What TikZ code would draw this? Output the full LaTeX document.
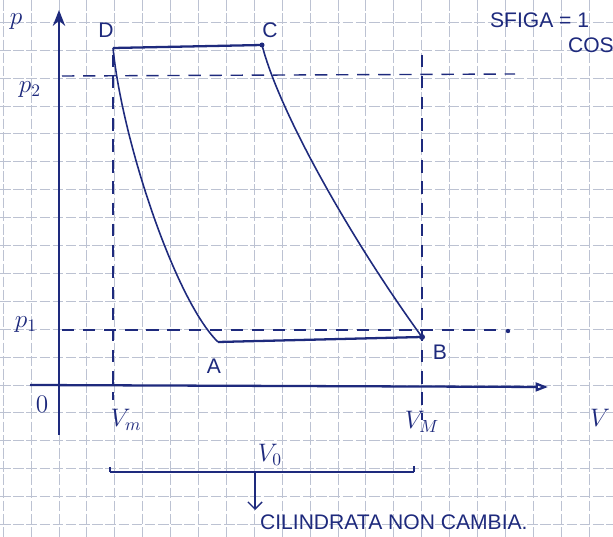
\documentclass[tikz,border=0pt]{standalone}
\usepackage{fontspec}
\setmainfont{Liberation Sans}
\usepackage{tikz}
\usetikzlibrary{arrows.meta}
\definecolor{inkblue}{RGB}{30,42,125}
\definecolor{gridgrey}{RGB}{188,194,210}

\tikzset{
  gridline/.style={gridgrey, line width=0.5pt, dash pattern=on 6pt off 1.5pt},
  axis/.style={inkblue, line width=1.3pt},
  cycleline/.style={inkblue, line width=1.3pt},
  cyclecurve/.style={inkblue, line width=0.9pt},
  guide/.style={inkblue, line width=0.8pt, dash pattern=on 7pt off 5pt},
  lbl/.style={text=inkblue, font=\large, inner sep=1pt},
}

\begin{document}
\begin{tikzpicture}[x=0.02cm, y=-0.02cm]
    \useasboundingbox (0,0) rectangle (613,537);
    \clip (0,0) rectangle (613,537);
    \fill[white] (0,0) rectangle (613,537);

    % squared paper
    \foreach \i in {0,...,21}
        \draw[gridline] (3.2+27.9*\i,0) -- ++(0,537);
    \foreach \j in {0,...,19}
        \draw[gridline] (0,-5.6+27.9*\j) -- ++(613,0);

    % axes
    \coordinate (xstart) at (30,385);
    \coordinate (xend) at (548,387);
    \coordinate (ystart) at (59,435);
    \coordinate (yend) at (59,10);
    \draw[axis, -{Triangle[open, length=7pt, width=5pt]}] (xstart) -- (xend);
    \draw[axis, -{Stealth[length=9pt, width=7pt]}] (ystart) -- (yend);

    % cycle corners
    \coordinate (D) at (113,48);
    \coordinate (C) at (262,45);
    \coordinate (A) at (218,342);
    \coordinate (B) at (422,337);

    \draw[cycleline] (D) -- (C);
    \draw[cycleline] (A) -- (B);
    \draw[cyclecurve] (C) .. controls (280,115) and (355,245) .. (B);
    \draw[cyclecurve] (D) .. controls (122,140) and (175,300) .. (A);
    \fill[inkblue] (C) circle (2.5);
    \fill[inkblue] (B) circle (3);

    % pressure and volume guides
    \coordinate (ptwoL) at (62,76);
    \coordinate (ptwoR) at (515,74);
    \coordinate (poneL) at (62,330);
    \coordinate (poneR) at (500,330);
    \coordinate (vmT) at (113,55);
    \coordinate (vmB) at (113,400);
    \coordinate (vMT) at (422,55);
    \coordinate (vMB) at (422,420);
    \draw[guide] (ptwoL) -- (ptwoR);
    \draw[guide] (poneL) -- (poneR);
    \draw[guide] (vmT) -- (vmB);
    \draw[guide] (vMT) -- (vMB);
    \fill[inkblue] (508,331) circle (2.2);

    % labels
    \node[lbl] (lD) at (106,30) {D};
    \node[lbl] (lC) at (270,30) {C};
    \node[lbl] (lA) at (214,366) {A};
    \node[lbl] (lB) at (440,352) {B};
    \node[lbl] (lp) at (16,22) {\Large$p$};
    \node[lbl] (lptwo) at (30,90) {\Large$p_2$};
    \node[lbl] (lpone) at (26,325) {\Large$p_1$};
    \node[lbl] (lO) at (42,404) {\Large$0$};
    \node[lbl] (lVm) at (126,420) {\Large$V_m$};
    \node[lbl] (lVM) at (422,422) {\Large$V_M$};
    \node[lbl] (lV) at (600,418) {\Large$V$};

    % swept volume
    \coordinate (sL) at (110,472);
    \coordinate (sR) at (414,472);
    \coordinate (sM) at (255,472);
    \coordinate (sD) at (255,510);
    \draw[cycleline, line width=1pt] (sL) -- (sR);
    \draw[inkblue, line width=0.8pt] (sL) -- ++(0,-5);
    \draw[inkblue, line width=0.8pt] (sR) -- ++(0,-6);
    \draw[inkblue, line width=0.8pt, -{Straight Barb[length=4pt]}] (sM) -- (sD);
    \node[lbl] (lVo) at (270,455) {\Large$V_0$};
    \node[lbl, anchor=west] (note) at (258,522) {CILINDRATA NON CAMBIA.};

    % note at the top right
    \node[lbl, anchor=west] (sfiga) at (488,20) {SFIGA = 1};
    \node[lbl, anchor=west] (cosnote) at (566,45) {COS};
\end{tikzpicture}
\end{document}
